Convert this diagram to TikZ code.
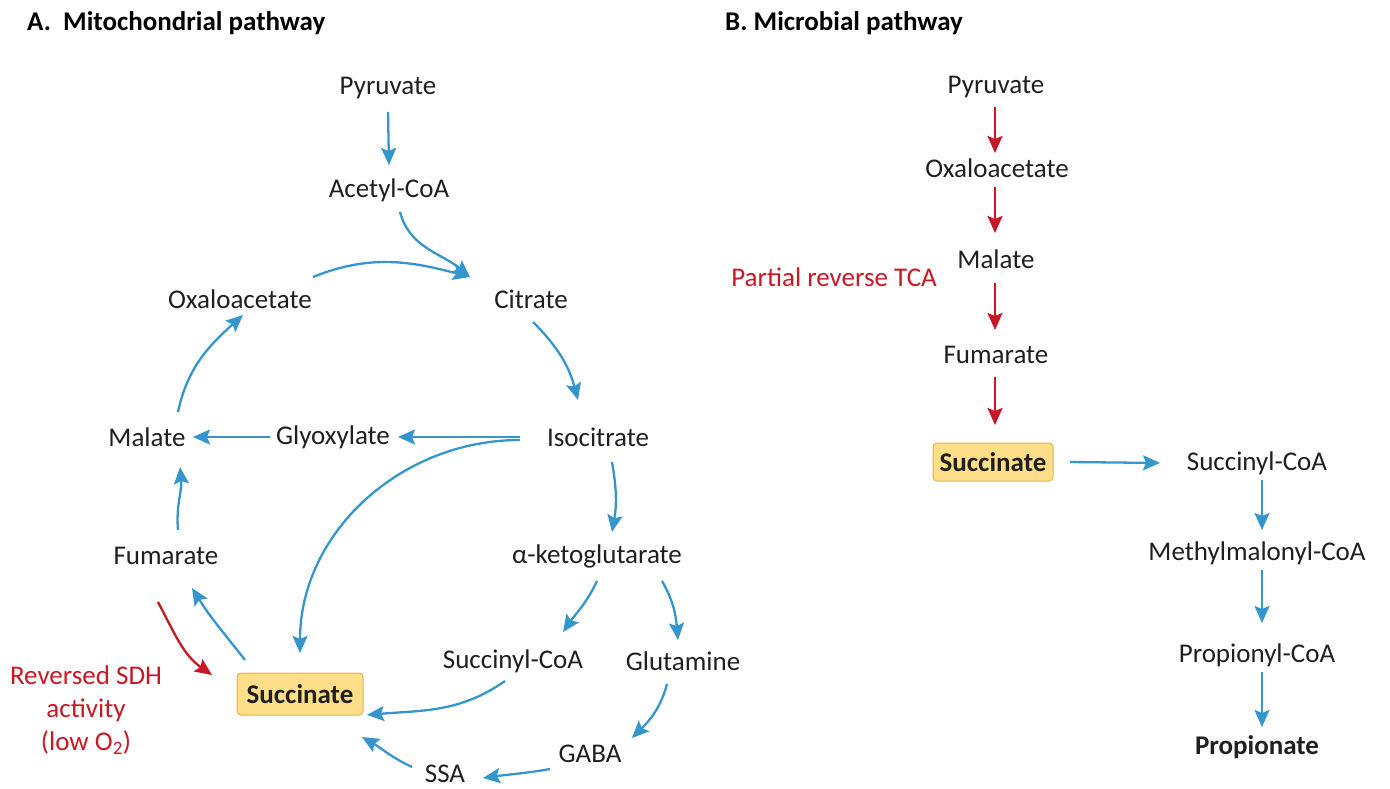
\documentclass[tikz,border=0pt]{standalone}
\usepackage{fontspec}
\setmainfont{Carlito}
\usetikzlibrary{calc,arrows.meta}
\definecolor{tcablue}{RGB}{52,150,204}
\definecolor{tcared}{RGB}{200,24,36}
\definecolor{succfill}{RGB}{255,222,138}
\definecolor{succline}{RGB}{222,178,82}

\tikzset{
  met/.style={font=\fontsize{27}{33}\selectfont, text=black!88, inner sep=0pt},
  succbox/.style={met, font=\fontsize{27}{33}\selectfont\bfseries, fill=succfill,
    draw=succline, line width=1pt, rounded corners=4pt},
  head/.style={font=\fontsize{27}{33}\selectfont\bfseries, anchor=west, inner sep=0pt},
  bluearr/.style={-{Stealth[length=17pt,width=15pt,inset=3pt]}, tcablue, line width=2.3pt},
  redarr/.style={-{Stealth[length=17pt,width=15pt,inset=3pt]}, tcared, line width=2.3pt},
}

\begin{document}
\begin{tikzpicture}[x=1pt,y=-1pt]
  \useasboundingbox (0,0) rectangle (1390,789);

  % A. mitochondrial pathway
  \node[head] (titleA) at (27,23) {A.\ \ Mitochondrial pathway};
  \node[met] (pyrA) at (388,88) {Pyruvate};
  \node[met] (acetA) at (389,190) {Acetyl-CoA};
  \node[met] (citA) at (531,299) {Citrate};
  \node[met] (oxaA) at (240,299) {Oxaloacetate};
  \node[met] (isoA) at (598,437) {Isocitrate};
  \node[met] (glyA) at (333,437) {Glyoxylate};
  \node[met] (malA) at (147,437) {Malate};
  \node[met] (fumA) at (166,556) {Fumarate};
  \node[met] (akgA) at (597,556) {α-ketoglutarate};
  \node[met] (sucoaA) at (513,661) {Succinyl-CoA};
  \node[met] (glnA) at (683,661) {Glutamine};
  \node[succbox, minimum width=126pt, minimum height=42pt] (succA) at (300,694) {Succinate};
  \node[met] (gabaA) at (590,754) {GABA};
  \node[met] (ssaA) at (445,774) {SSA};
  \node[met, text=tcared, align=center] (sdh) at (86,710)
    {Reversed SDH\\activity\\(low O\textsubscript{2})};
  \coordinate (citin) at ($(citA)+(-61,-22)$);

  \draw[bluearr] ($(pyrA)+(0,24)$) -- ($(acetA)+(0,-25)$);
  \draw[bluearr] ($(acetA)+(11,22)$) to[out=-75,in=140] (citin);
  \draw[bluearr] ($(oxaA)+(73,-22)$) to[out=22,in=165] (citin);
  \draw[bluearr] ($(citA)+(2,23)$) to[out=-45,in=105] ($(isoA)+(-20,-37)$);
  \draw[bluearr] ($(isoA)+(14,25)$) to[out=-80,in=80] ($(isoA)+(14,95)$);
  \draw[bluearr] ($(isoA)+(-78,0)$) -- ($(glyA)+(65,0)$);
  \draw[bluearr] ($(isoA)+(-78,3)$) to[out=180,in=90] ($(succA)+(0,-41)$);
  \draw[bluearr] ($(glyA)+(-63,0)$) -- ($(malA)+(46,0)$);
  \draw[bluearr] ($(fumA)+(12,-26)$) to[out=95,in=-85] ($(malA)+(33,30)$);
  \draw[bluearr] ($(malA)+(31,-25)$) to[out=78,in=-138] ($(oxaA)+(3,16)$);
  \draw[bluearr] ($(succA)+(-55,-34)$) to[out=128,in=-58] ($(fumA)+(26,32)$);
  \draw[redarr] ($(fumA)+(-8,46)$) to[out=-62,in=145] ($(succA)+(-88,-19)$);
  \draw[bluearr] ($(akgA)+(0,25)$) to[out=-115,in=55] ($(sucoaA)+(50,-29)$);
  \draw[bluearr] ($(akgA)+(65,25)$) to[out=-60,in=95] ($(glnA)+(-5,-21)$);
  \draw[bluearr] ($(sucoaA)+(-8,20)$) to[out=-145,in=5] ($(succA)+(67,21)$);
  \draw[bluearr] ($(glnA)+(-16,23)$) to[out=-105,in=45] ($(gabaA)+(42,-16)$);
  \draw[bluearr] ($(gabaA)+(-40,15)$) to[out=-170,in=8] ($(ssaA)+(38,4)$);
  \draw[bluearr] ($(ssaA)+(-33,-7)$) to[out=155,in=-30] ($(succA)+(62,43)$);

  % B. microbial pathway
  \node[head] (titleB) at (725,23) {B. Microbial pathway};
  \node[met] (pyrB) at (996,87) {Pyruvate};
  \node[met] (oxaB) at (997,168) {Oxaloacetate};
  \node[met] (malB) at (996,259) {Malate};
  \node[met] (fumB) at (996,355) {Fumarate};
  \node[succbox, minimum width=120pt, minimum height=38pt] (succB) at (993,462) {Succinate};
  \node[met, text=tcared] (rtca) at (834,277) {Partial reverse TCA};
  \node[met] (sucoaB) at (1257,463) {Succinyl-CoA};
  \node[met] (mmcoaB) at (1257,553) {Methylmalonyl-CoA};
  \node[met] (propcoaB) at (1257,655) {Propionyl-CoA};
  \node[met, font=\fontsize{27}{33}\selectfont\bfseries] (propB) at (1257,747) {Propionate};

  \draw[redarr] ($(pyrB)+(-1,20)$) -- ($(oxaB)+(-2,-15)$);
  \draw[redarr] ($(oxaB)+(-2,19)$) -- ($(malB)+(-1,-26)$);
  \draw[redarr] ($(malB)+(-1,24)$) -- ($(fumB)+(-1,-25)$);
  \draw[redarr] ($(fumB)+(-1,22)$) -- ($(succB)+(2,-37)$);
  \draw[bluearr] ($(succB)+(77,0)$) -- ($(sucoaB)+(-97,0)$);
  \draw[bluearr] ($(sucoaB)+(5,17)$) -- ($(mmcoaB)+(5,-23)$);
  \draw[bluearr] ($(mmcoaB)+(5,17)$) -- ($(propcoaB)+(5,-32)$);
  \draw[bluearr] ($(propcoaB)+(5,17)$) -- ($(propB)+(5,-20)$);
\end{tikzpicture}
\end{document}
